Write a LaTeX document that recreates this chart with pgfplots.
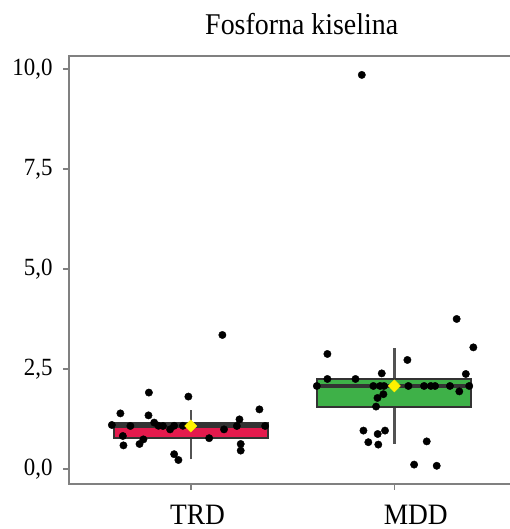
\documentclass[border=0pt]{standalone}
\usepackage{pgfplots}
\pgfplotsset{compat=1.18}
\usepgfplotslibrary{statistics}
\usepackage{fontspec}
\setmainfont{Liberation Serif}
\definecolor{trd}{RGB}{228,26,77}
\definecolor{mdd}{RGB}{62,177,72}
\definecolor{edge}{RGB}{51,51,51}
\definecolor{frame}{RGB}{128,128,128}
\newcommand{\vs}[1]{\scalebox{1}[1.08]{#1}}
\pgfplotstableread{
x y
1.155 3.35
0.794 1.91
0.988 1.81
0.654 1.39
0.792 1.34
1.337 1.49
0.612 1.10
0.703 1.075
0.820 1.16
0.841 1.08
0.863 1.075
0.898 0.99
0.918 1.08
0.961 1.08
1.239 1.24
1.226 1.075
1.163 0.99
1.365 1.075
0.666 0.825
0.669 0.59
0.748 0.625
0.767 0.74
1.090 0.77
1.245 0.625
1.245 0.46
0.918 0.37
0.939 0.225
}\trdpts
\pgfplotstableread{
x y
2.306 3.75
2.388 3.04
1.671 2.875
2.064 2.725
1.938 2.39
2.351 2.375
1.671 2.25
1.809 2.25
1.619 2.075
1.897 2.075
1.930 2.075
1.949 2.075
2.069 2.075
2.146 2.075
2.179 2.075
2.200 2.075
2.273 2.075
2.368 2.075
2.319 1.94
1.946 1.87
1.917 1.775
1.910 1.56
1.848 0.96
1.954 0.96
1.918 0.875
1.872 0.67
1.921 0.61
2.159 0.69
2.097 0.11
2.208 0.08
1.840 9.85
}\mddpts
\begin{document}
\begin{tikzpicture}
\path[use as bounding box] (0,0) rectangle (510bp,529bp);
\clip (0,0) rectangle (510bp,529bp);
\begin{axis}[
  at={(68.7bp,45bp)}, anchor=south west,
  scale only axis, width=447.8bp, height=428.3bp,
  xmin=0.4, xmax=2.6, ymin=-0.375, ymax=10.33,
  axis line style={draw=frame, line width=1.8bp},
  tick style={draw=frame, line width=1.4bp},
  tick align=outside, major tick length=5.5bp,
  xtick pos=bottom, ytick pos=left,
  xtick={1,2},
  xticklabels={\hspace*{13.2bp}\vs{TRD}, \hspace*{42.8bp}\vs{MDD}},
  ytick={0,2.5,5,7.5,10},
  yticklabels={\vs{0,0},\vs{2,5},\vs{5,0},\vs{7,5},\vs{10,0}},
  yticklabel style={font=\fontsize{23}{23}\selectfont, anchor=east, inner sep=0pt, xshift=-10.5bp},
  xticklabel style={font=\fontsize{27.5}{27.5}\selectfont, anchor=north, inner sep=0pt, yshift=-15.5bp},
  boxplot/draw direction=y,
  boxplot/whisker extend=0,
  clip=false,
]
\addplot[draw=edge, line width=2bp, fill=trd,
  boxplot prepared={draw position=1, median=1.075, upper quartile=1.15, lower quartile=0.775,
  upper whisker=1.475, lower whisker=0.24, box extend=0.756,
  every median/.style={line width=4.5bp, draw=edge},
  every whisker/.style={line width=2.3bp, draw=edge!85!white}}] coordinates {};
\addplot[draw=edge, line width=2bp, fill=mdd,
  boxplot prepared={draw position=2, median=2.075, upper quartile=2.25, lower quartile=1.56,
  upper whisker=3.02, lower whisker=0.625, box extend=0.756,
  every median/.style={line width=4.5bp, draw=edge},
  every whisker/.style={line width=2.3bp, draw=edge!85!white}}] coordinates {};
\addplot[only marks, mark=*, mark size=3.7bp, mark options={fill=black, draw=black}] table[x=x,y=y] {\trdpts};
\addplot[only marks, mark=*, mark size=3.7bp, mark options={fill=black, draw=black}] table[x=x,y=y] {\mddpts};
\addplot[only marks, mark=square*, mark size=4.3bp, mark options={rotate=45, fill=yellow, draw=yellow}] coordinates {(1,1.075) (2,2.075)};
\end{axis}
\node[font=\fontsize{28}{28}\selectfont, anchor=base] at (301.7bp,494bp) {\vs{Fosforna kiselina}};
\end{tikzpicture}
\end{document}
